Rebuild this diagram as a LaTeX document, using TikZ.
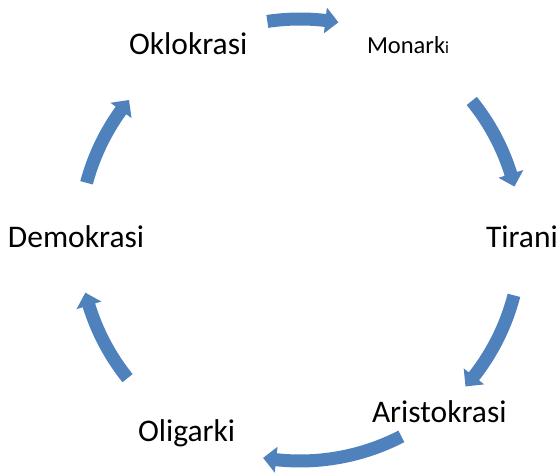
\documentclass[tikz,border=0pt]{standalone}
\usepackage{fontspec}
\setmainfont{Carlito}
\definecolor{arrowblue}{RGB}{79,129,189}
\tikzset{
  stage/.style={anchor=base west, inner sep=0pt, outer sep=0pt, text=black,
    font=\fontsize{31.5}{31.5}\selectfont},
}
% Curved block arrow on the cycle circle, running clockwise from angle #1 to angle #2
\newcommand\cyclearrow[2]{%
  \pgfmathsetmacro\hb{#2+3.4}%
  \fill[arrowblue] (#1:227.5pt) arc[start angle=#1, end angle=\hb, radius=227.5pt]
    -- (\hb:234pt) -- (#2:221pt) -- (\hb:208pt) -- (\hb:214.5pt)
    arc[start angle=\hb, end angle=#1, radius=214.5pt] -- cycle;
}
\begin{document}
\begin{tikzpicture}[x=1pt,y=1pt]
\useasboundingbox (0,0) rectangle (559,473);
% stage labels
\node[stage] (okl) at (129,418) {Oklokrasi};
\node[stage, font=\fontsize{24.5}{24.5}\selectfont] (mon) at (367,419)
  {Monark{\fontsize{17}{17}\selectfont i}};
\node[stage] (tir) at (486,225) {Tirani};
\node[stage] (ari) at (372,50) {Aristokrasi};
\node[stage] (oli) at (138,31) {Oligarki};
\node[stage] (dem) at (8,225) {Demokrasi};
% arrows of the cycle
\begin{scope}[shift={(300,233)}]
  \cyclearrow{98.5}{80}
  \cyclearrow{39}{14}
  \cyclearrow{-14.5}{-41.5}
  \cyclearrow{-62.7}{-99.6}
  \cyclearrow{218.7}{193.8}
  \cyclearrow{165}{140.7}
\end{scope}
\end{tikzpicture}
\end{document}
